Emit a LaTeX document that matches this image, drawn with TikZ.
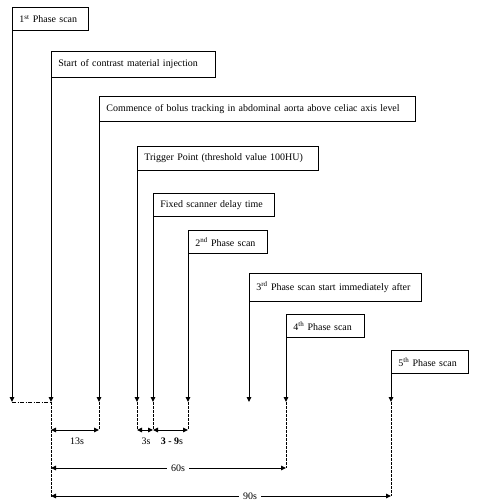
\documentclass[tikz,border=0pt]{standalone}
\usepackage{fontspec}
\setmainfont{Liberation Serif}
\usetikzlibrary{arrows.meta}
\begin{document}
\begin{tikzpicture}[x=1bp,y=-1bp,
  box/.style={draw, line width=0.8bp, anchor=north west, inner xsep=7bp, inner ysep=0bp,
    align=left, font=\fontsize{10}{12}\selectfont},
  vline/.style={line width=1bp, -{Triangle[length=5bp,width=4.5bp]}},
  ext/.style={line width=0.7bp, dashed, dash pattern=on 2.5bp off 1.5bp},
  dim/.style={line width=1bp, {Triangle[length=5bp,width=4.5bp]}-{Triangle[length=5bp,width=4.5bp]}},
  lab/.style={font=\fontsize{10}{12}\selectfont, inner sep=1bp}]
\useasboundingbox (0,0) rectangle (477,504);
% boxes
\node[box, text width=62bp, minimum height=23bp] (b1) at (12,7) {1\textsuperscript{st} Phase scan};
\node[box, text width=150bp, minimum height=26bp] (b2) at (51,51) {Start of contrast material injection};
\node[box, text width=302bp, minimum height=25bp] (b3) at (99,96) {Commence of bolus tracking in abdominal aorta above celiac axis level};
\node[box, text width=167bp, minimum height=24bp] (b4) at (137,146) {Trigger Point (threshold value 100HU)};
\node[box, text width=107bp, minimum height=23bp] (b5) at (153,193) {Fixed scanner delay time};
\node[box, text width=65bp, minimum height=23bp] (b6) at (188,230) {2\textsuperscript{nd} Phase scan};
\node[box, text width=158bp, minimum height=28bp] (b7) at (249,273) {3\textsuperscript{rd} Phase scan start immediately after};
\node[box, text width=64bp, minimum height=23bp] (b8) at (286,314) {4\textsuperscript{th} Phase scan};
\node[box, text width=63bp, minimum height=23bp] (b9) at (391,350) {5\textsuperscript{th} Phase scan};
% arrow ends
\coordinate (e1) at (12,402);
\coordinate (e2) at (51,402);
\coordinate (e3) at (99,402);
\coordinate (e4) at (137,402);
\coordinate (e5) at (153,402);
\coordinate (e6) at (188,402);
\coordinate (e7) at (249,402);
\coordinate (e8) at (286,402);
\coordinate (e9) at (391,402);
\foreach \i in {1,...,9} {\draw[vline] (b\i.south west) -- (e\i);}
% extensions
\coordinate (f2) at (51,497);
\coordinate (f3) at (99,430);
\coordinate (f4) at (137,430);
\coordinate (f5) at (153,430);
\coordinate (f6) at (188,430);
\coordinate (f8) at (286,468);
\coordinate (f9) at (391,496);
\coordinate (g13) at (51,430);
\coordinate (g60) at (51,468);
\coordinate (g90) at (51,496);
\draw[line width=0.7bp, dash pattern=on 4bp off 1.5bp on 1bp off 1.5bp] (e1) -- (e2);
\draw[ext] (e2) -- (f2);
\foreach \i in {3,4,5,6,8,9} {\draw[ext] (e\i) -- (f\i);}
% dimensions
\draw[dim] (g13) -- (f3);
\draw[dim] (f4) -- (f5);
\draw[dim] (f5) -- (f6);
\draw[dim] (g60) -- (f8);
\draw[dim] (g90) -- (f9);
\node[lab] (l13) at (77,441) {13s};
\node[lab] (l3) at (146,441) {3s};
\node[lab] (l39) at (172,441) {\textbf{3 - 9}s};
\node[lab, fill=white, inner xsep=4bp] (l60) at (178,468) {60s};
\node[lab, fill=white, inner xsep=4bp] (l90) at (250,496) {90s};
\end{tikzpicture}
\end{document}
